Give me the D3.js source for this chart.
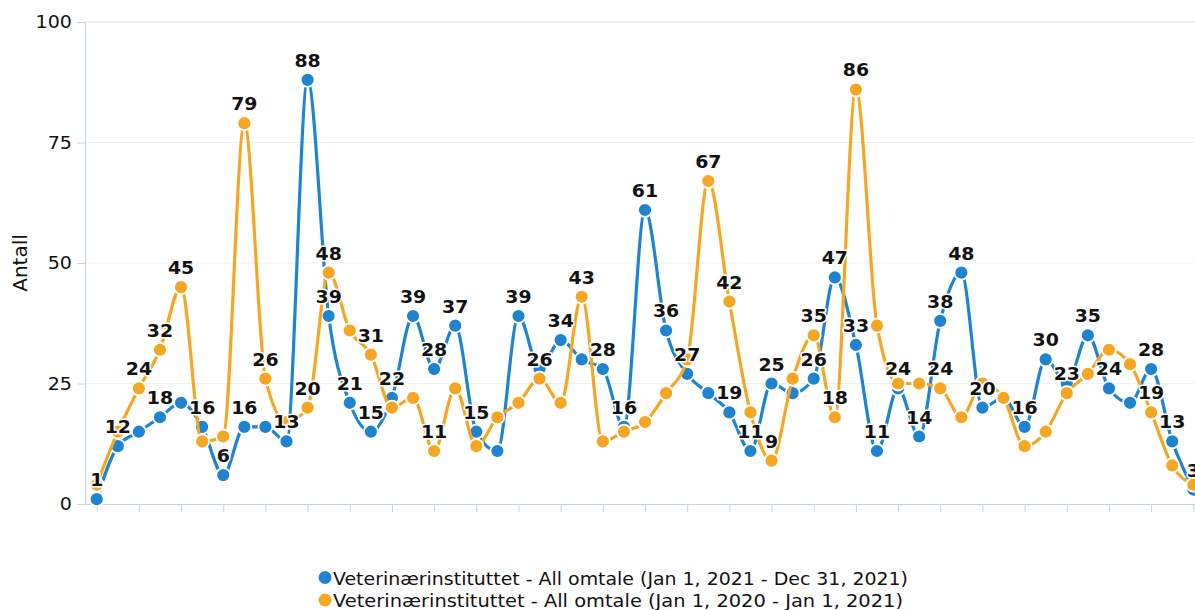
<!DOCTYPE html>
<html><head><meta charset="utf-8">
<script src="https://cdn.jsdelivr.net/npm/d3@7"></script>
<style>
body{margin:0;background:#fff}
svg{display:block}
text{font-family:"DejaVu Sans",sans-serif}
</style>
</head><body>
<svg id="chart" width="1195" height="610"></svg>
<script>
const weeks = [1,2,3,4,5,6,7,8,9,10,11,12,13,14,15,16,17,18,19,20,21,22,23,24,25,26,27,28,29,30,31,32,33,34,35,36,37,38,39,40,41,42,43,44,45,46,47,48,49,50,51,52,53];
const values2021 = [1,12,15,18,21,16,6,16,16,13,88,39,21,15,22,39,28,37,15,11,39,28,34,30,28,16,61,36,27,23,19,11,25,23,26,47,33,11,24,14,38,48,20,22,16,30,25,35,24,21,28,13,3];
const values2020 = [4,15,24,32,45,13,14,79,26,17,20,48,36,31,20,22,11,24,12,18,21,26,21,43,13,15,17,23,30,67,42,19,9,26,35,18,86,37,25,25,24,18,25,22,12,15,23,27,32,29,19,8,4];
const labeled2021 = [1,2,4,6,7,8,10,11,12,13,14,15,16,17,18,19,21,23,25,26,27,28,29,31,32,33,35,36,37,38,39,40,41,42,43,45,46,48,49,51,52,53];
const labeled2020 = [3,4,5,8,9,11,12,14,17,22,24,30,31,33,35,36,37,41,47,51];
const yTicks = [0,25,50,75,100];
const xTicks = [1,3,5,7,9,11,13,15,17,19,21,23,25,27,29,31,33,35,37,39,41,43,45,47,49,51,53];
const seriesNames = ["Veterinærinstituttet - All omtale (Jan 1, 2021 - Dec 31, 2021)","Veterinærinstituttet - All omtale (Jan 1, 2020 - Jan 1, 2021)"];
const seriesColors = ["#1f84d0","#f5a623"];
const yTitle = "Antall";

(function () {
const svg = d3.select("#chart");
const pLeft = 85, pRight = 1205, pTop = 22, pBottom = 504;
const x = d3.scaleLinear().domain([0.445, 53.555]).range([pLeft, pRight]);
const y = d3.scaleLinear().domain([0, 100]).range([pBottom, pTop]);

// grid
svg.append("g").selectAll("line").data(yTicks.filter(d => d > 0)).join("line")
  .attr("x1", pLeft).attr("x2", pRight)
  .attr("y1", d => y(d)).attr("y2", d => y(d))
  .attr("stroke", d => d === 100 ? "#d6dadd" : "#edf2f4").attr("stroke-width", 1.2);

// y axis
const ya = svg.append("g").attr("transform", `translate(${pLeft},0)`)
  .call(d3.axisLeft(y).tickValues(yTicks).tickSize(8).tickSizeOuter(0).tickPadding(5));
ya.select(".domain").attr("stroke", "#c3d6e0").attr("stroke-width", 1.2);
ya.selectAll(".tick line").attr("stroke", "#c3d6e0");
ya.selectAll(".tick text").attr("font-size", 18).attr("fill", "#111")
  .attr("font-family", '"DejaVu Sans",sans-serif')
  .attr("x", null).attr("transform", "translate(-13,0) scale(1.06,1)");

// x axis
const xa = svg.append("g").attr("transform", `translate(0,${pBottom})`)
  .call(d3.axisBottom(x).tickValues(xTicks).tickSize(8).tickSizeOuter(0).tickFormat(""));
xa.select(".domain").attr("stroke", "#c3d6e0").attr("stroke-width", 1.2);
xa.selectAll(".tick line").attr("stroke", "#c3d6e0");

// y title
svg.append("text").attr("transform", `translate(27,${(pTop + pBottom) / 2}) rotate(-90)`)
  .attr("text-anchor", "middle").attr("font-size", 20).attr("fill", "#111").text(yTitle);

const series = [
  {vals: values2021, color: seriesColors[0], labeled: labeled2021},
  {vals: values2020, color: seriesColors[1], labeled: labeled2020}
];
const line = d3.line().x(d => x(d.w)).y(d => y(d.v)).curve(d3.curveMonotoneX);

series.forEach(s => {
  const pts = weeks.map((w, i) => ({w, v: s.vals[i]}));
  svg.append("path").datum(pts).attr("d", line)
    .attr("fill", "none").attr("stroke", s.color).attr("stroke-width", 3.2);
  svg.append("g").selectAll("circle").data(pts).join("circle")
    .attr("cx", d => x(d.w)).attr("cy", d => y(d.v)).attr("r", 7)
    .attr("fill", s.color).attr("stroke", "#fff").attr("stroke-width", 1.8);
});

series.forEach(s => {
  const pts = weeks.map((w, i) => ({w, v: s.vals[i]})).filter(d => s.labeled.includes(d.w));
  svg.append("g").selectAll("text").data(pts).join("text")
    .attr("transform", d => `translate(${x(d.w)},${y(d.v) - 13}) scale(1.05,1)`)
    .attr("text-anchor", "middle").attr("font-size", 18).attr("font-weight", "bold")
    .attr("fill", "#111").attr("stroke", "#fff").attr("stroke-width", 3)
    .attr("paint-order", "stroke").attr("stroke-linejoin", "round")
    .text(d => d.v);
});

// legend
const lg = svg.append("g");
seriesNames.forEach((name, i) => {
  const ly = 577.5 + i * 22.5;
  lg.append("circle").attr("cx", 325).attr("cy", ly).attr("r", 6.5).attr("fill", seriesColors[i]);
  lg.append("text").attr("x", 333).attr("y", ly + 7)
    .attr("font-size", 18).attr("fill", "#111")
    .attr("textLength", i === 0 ? 575 : 570).attr("lengthAdjust", "spacingAndGlyphs")
    .text(name);
});
})();
</script>
</body></html>
